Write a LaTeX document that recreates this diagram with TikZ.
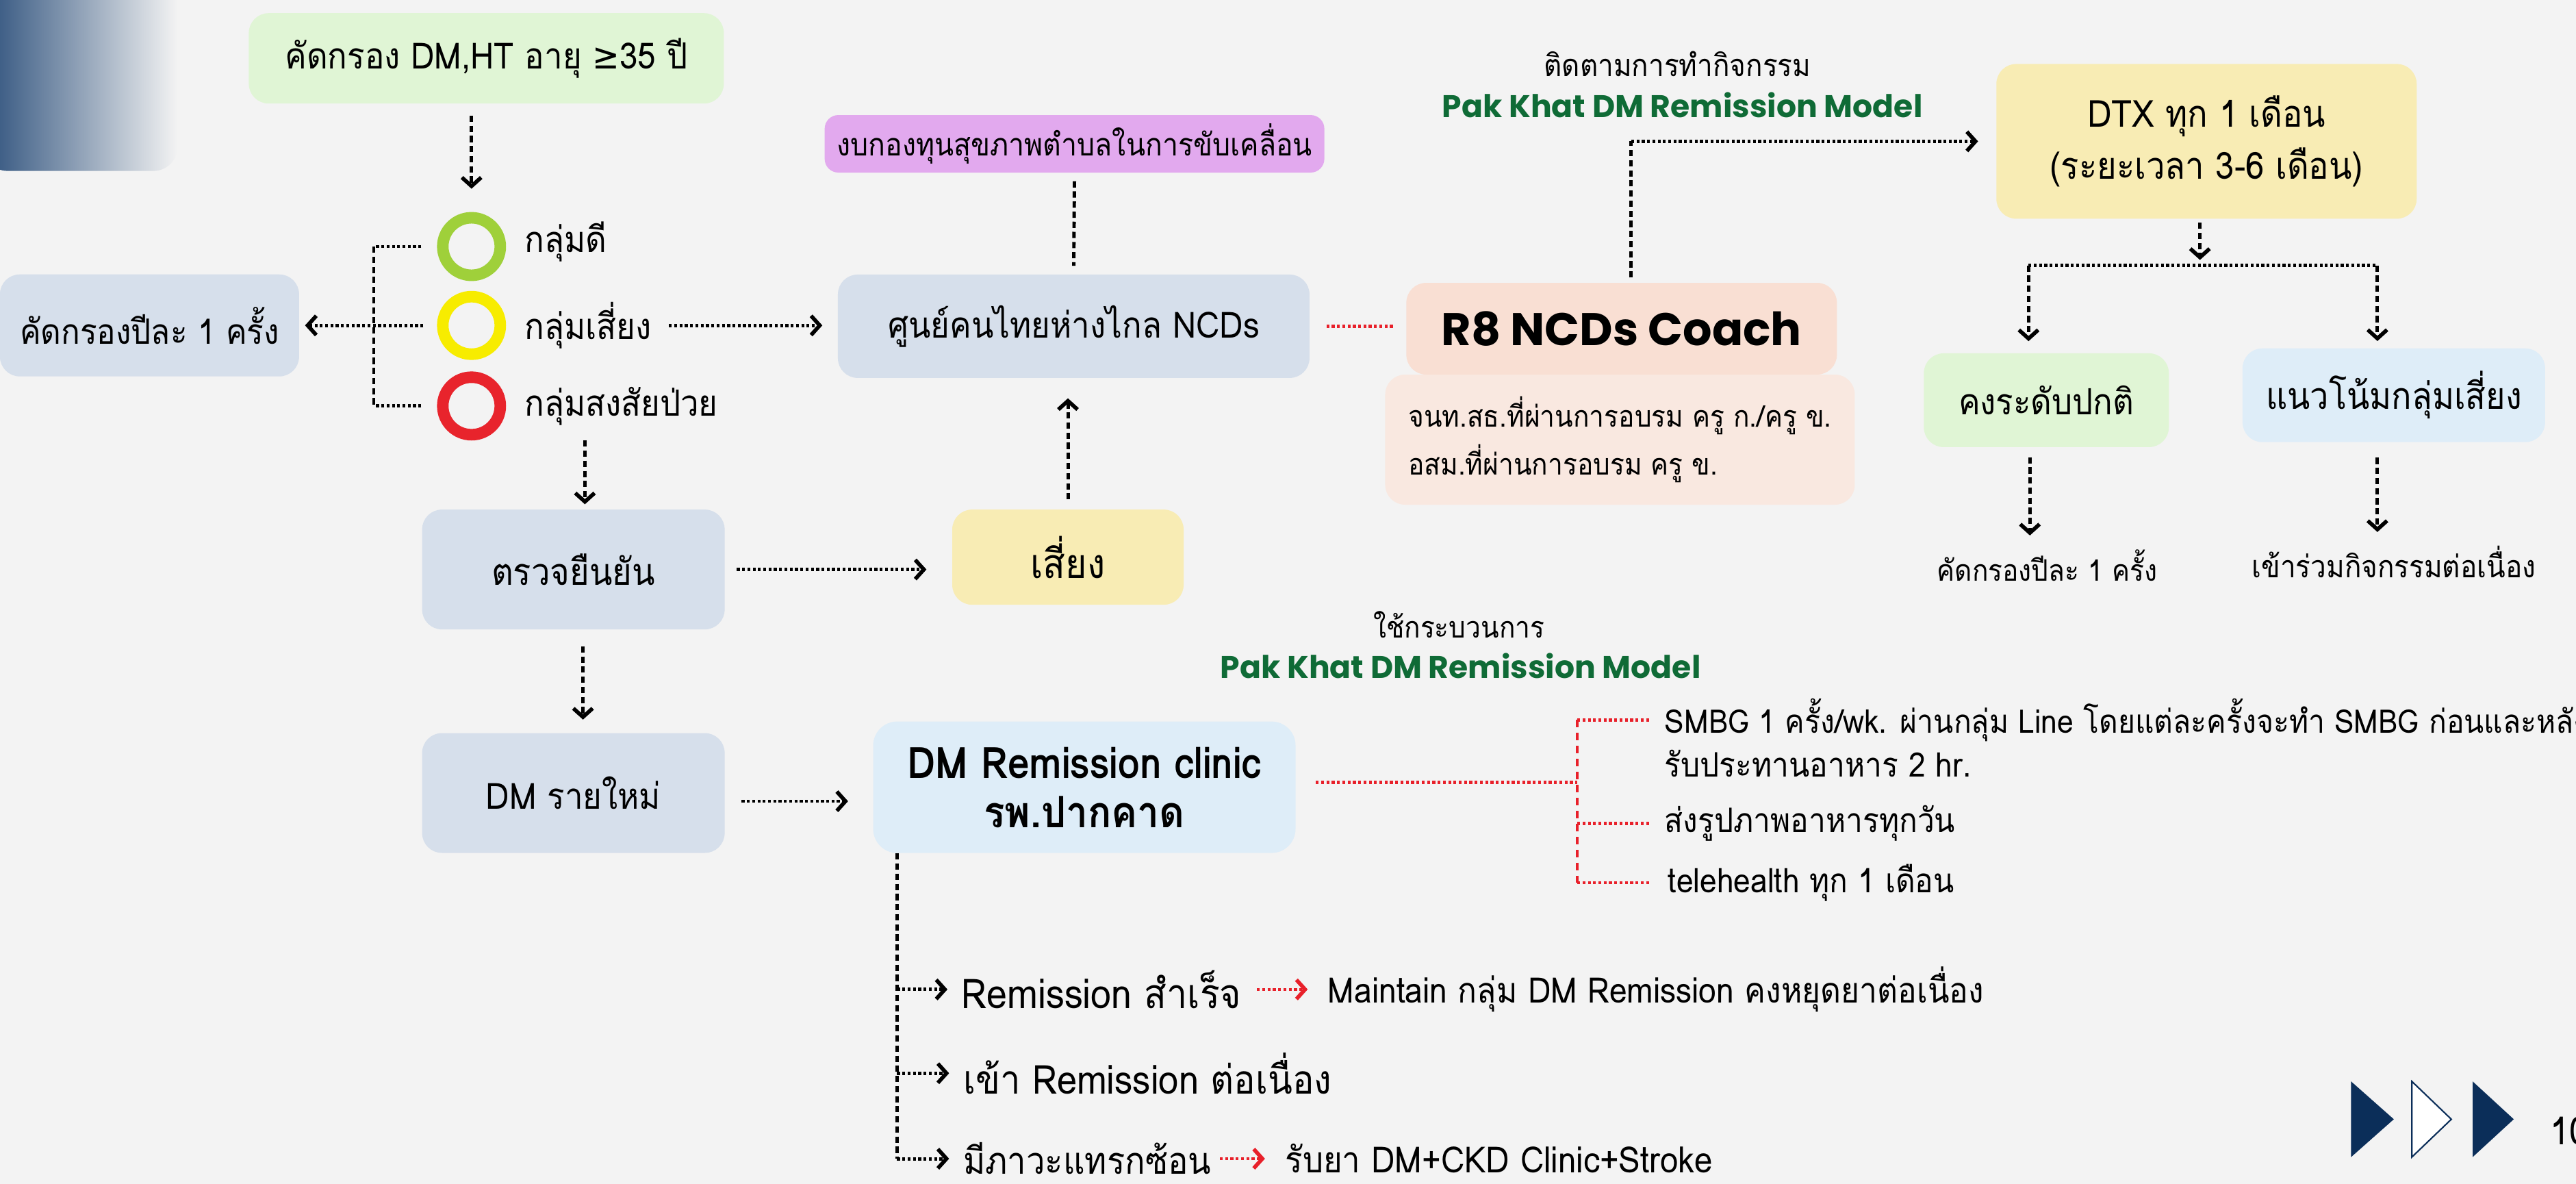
\documentclass[tikz,border=0pt]{standalone}
\usepackage{fontspec}
\setmainfont{Loma}[Script=Thai, FakeStretch=0.9]
\newfontfamily\popfont{Poppins}
\newfontfamily\symfont{DejaVu Sans}[FakeStretch=0.9]
\usetikzlibrary{arrows.meta}

\definecolor{paper}{HTML}{F3F3F3}
\definecolor{navy}{HTML}{0B2E59}
\definecolor{fade}{HTML}{2F527D}
\definecolor{mint}{HTML}{E0F5D5}
\definecolor{slate}{HTML}{D6DFEB}
\definecolor{lilac}{HTML}{E2A9EE}
\definecolor{cream}{HTML}{F8ECB4}
\definecolor{peach}{HTML}{F9DFD3}
\definecolor{blush}{HTML}{F9E8E0}
\definecolor{sky}{HTML}{DEEDF8}
\definecolor{okgreen}{HTML}{9FD03A}
\definecolor{warnyellow}{HTML}{F7EC00}
\definecolor{alertred}{HTML}{E8242C}
\definecolor{linkred}{HTML}{E8202A}
\definecolor{modelgreen}{HTML}{0F6B36}

\begin{document}
\begin{tikzpicture}[x=0.024cm, y=-0.024cm,
    box/.style={rounded corners=0.29cm, inner sep=0pt, align=center, font=\fontsize{15}{20}\selectfont},
    note/.style={inner sep=0pt, font=\fontsize{14}{17}\selectfont},
    ring/.style={circle, draw, line width=4.8pt, minimum size=0.84cm, inner sep=0pt},
    model/.style={inner sep=0pt, text=modelgreen, font=\popfont\bfseries\fontsize{13}{15}\selectfont},
    link/.style={line width=1.4pt, dash pattern=on 1.2pt off 1pt},
    vlink/.style={line width=1.4pt, dash pattern=on 2.6pt off 1.6pt},
    redlink/.style={line width=1.3pt, draw=linkred, dash pattern=on 1.2pt off 1pt},
    redv/.style={line width=1.2pt, draw=linkred, dash pattern=on 3pt off 2.4pt},
    arrowed/.style={-{Straight Barb[length=3.6pt,width=8pt,line width=1.6pt]}}]

    \useasboundingbox (0,0) rectangle (1567.9,720.4);
    \fill[paper] (0,0) rectangle (1567.9,720.4);
    \shade[left color=fade, right color=paper, rounded corners=0.35cm] (-10,-30) rectangle (108,104);

    % screening and groups
    \node[box, fill=mint, minimum width=6.94cm, minimum height=1.32cm] at (296,35.5) (screen) {คัดกรอง DM,HT อายุ {\symfont ≥}35 ปี};
    \node[ring, draw=okgreen] at (287,150) (good) {};
    \node[ring, draw=warnyellow] at (287,198) (risky) {};
    \node[ring, draw=alertred] at (287,247) (sick) {};
    \node[note, anchor=west, font=\fontsize{15}{18}\selectfont] at (319,147) (goodtxt) {กลุ่มดี};
    \node[note, anchor=west, font=\fontsize{15}{18}\selectfont] at (319,198) (riskytxt) {กลุ่มเสี่ยง};
    \node[note, anchor=west, font=\fontsize{15}{18}\selectfont] at (319,247) (sicktxt) {กลุ่มสงสัยป่วย};
    \node[box, fill=slate, minimum width=4.37cm, minimum height=1.49cm, font=\fontsize{14.5}{18}\selectfont] at (91,198) (yearly) {คัดกรองปีละ 1 ครั้ง};

    \node[box, fill=slate, minimum width=6.89cm, minimum height=1.51cm] at (653.5,198.5) (hub) {ศูนย์คนไทยห่างไกล NCDs};
    \node[box, fill=lilac, rounded corners=0.2cm, minimum width=7.3cm, minimum height=0.84cm, font=\fontsize{13}{16}\selectfont] at (654,87.5) (fund) {งบกองทุนสุขภาพตำบลในการขับเคลื่อน};
    \node[box, fill=cream, minimum width=3.38cm, minimum height=1.39cm, font=\fontsize{17}{20}\selectfont] at (650,339) (risk) {เสี่ยง};
    \node[box, fill=slate, minimum width=4.42cm, minimum height=1.75cm, font=\fontsize{15.5}{20}\selectfont] at (349,346.5) (confirm) {ตรวจยืนยัน};
    \node[box, fill=slate, minimum width=4.42cm, minimum height=1.75cm] at (349,482.5) (newdm) {DM รายใหม่};
    \node[box, fill=sky, rounded corners=0.35cm, minimum width=6.17cm, minimum height=1.92cm, font=\bfseries\fontsize{18}{20.5}\selectfont] at (660,479) (clinic) {DM Remission clinic\\รพ.ปากคาด};

    % coach and follow-up
    \node[box, fill=blush, minimum width=6.86cm, minimum height=1.9cm, align=left, font=\fontsize{12.3}{19.8}\selectfont] at (986,267.5) (staff) {จนท.สธ.ที่ผ่านการอบรม ครู ก./ครู ข.\\อสม.ที่ผ่านการอบรม ครู ข.};
    \node[box, fill=peach, minimum width=6.29cm, minimum height=1.34cm, font=\popfont\bfseries\fontsize{19}{22}\selectfont] at (987,200) (coach) {R8 NCDs Coach};
    \node[note, font=\fontsize{12.8}{16}\selectfont] at (1021,39) (followtxt) {ติดตามการทำกิจกรรม};
    \node[model] at (1024,64) (model1) {Pak Khat DM Remission Model};
    \node[box, fill=cream, minimum width=6.14cm, minimum height=2.26cm, font=\fontsize{15.5}{21.5}\selectfont] at (1343,86) (dtx) {DTX ทุก 1 เดือน\\(ระยะเวลา 3-6 เดือน)};
    \node[box, fill=mint, minimum width=3.58cm, minimum height=1.37cm] at (1245.5,243.5) (stable) {คงระดับปกติ};
    \node[box, fill=sky, minimum width=4.42cm, minimum height=1.37cm, font=\fontsize{15.4}{20}\selectfont] at (1457,240.5) (trend) {แนวโน้มกลุ่มเสี่ยง};
    \node[note, font=\fontsize{12.3}{16}\selectfont] at (1246,344) (stableout) {คัดกรองปีละ 1 ครั้ง};
    \node[note, font=\fontsize{12.8}{16}\selectfont] at (1457,342) (trendout) {เข้าร่วมกิจกรรมต่อเนื่อง};

    % clinic process
    \node[note, font=\fontsize{12.3}{16}\selectfont] at (888,380) (usetxt) {ใช้กระบวนการ};
    \node[model] at (889,405) (model2) {Pak Khat DM Remission Model};
    \node[note, anchor=west, font=\fontsize{13.5}{16}\selectfont] at (1013,438) (smbg) {SMBG 1 ครั้ง/wk. ผ่านกลุ่ม Line โดยแต่ละครั้งจะทำ SMBG ก่อนและหลัง};
    \node[note, anchor=west] at (1013,464.5) (smbgb) {รับประทานอาหาร 2 hr.};
    \node[note, anchor=west] at (1013,501) (photo) {ส่งรูปภาพอาหารทุกวัน};
    \node[note, anchor=west] at (1015,537) (tele) {telehealth ทุก 1 เดือน};

    \node[note, anchor=west, font=\fontsize{17}{20}\selectfont] at (585,602) (success) {Remission สำเร็จ};
    \node[note, anchor=west, font=\fontsize{14.6}{17}\selectfont] at (808,602) (maintain) {Maintain กลุ่ม DM Remission คงหยุดยาต่อเนื่อง};
    \node[note, anchor=west, font=\fontsize{16.6}{20}\selectfont] at (586,653) (ongoing) {เข้า Remission ต่อเนื่อง};
    \node[note, anchor=west, font=\fontsize{15.5}{19}\selectfont] at (586,705) (complic) {มีภาวะแทรกซ้อน};
    \node[note, anchor=west, font=\fontsize{15}{18}\selectfont] at (782,705) (referral) {รับยา DM+CKD Clinic+Stroke};

    \coordinate (brace) at (227.5,198);
    \coordinate (drop) at (356,268);
    \coordinate (fork) at (1339,161.5);
    \coordinate (split) at (960,476);
    \coordinate (trunk) at (546,519);

    % connectors
    \draw[vlink, arrowed, shorten <=0.17cm, shorten >=0.34cm] (screen.south -| good) -- (good.north);
    \draw[link, shorten <=0.23cm] (good.west) -- (good.west -| brace);
    \draw[vlink] (good.west -| brace) -- (sick.west -| brace);
    \draw[link, shorten <=0.23cm] (sick.west) -- (sick.west -| brace);
    \draw[link, arrowed, shorten <=0.2cm, shorten >=0.08cm] (risky.west) -- (yearly.east);
    \draw[link, arrowed, shorten <=0.25cm, shorten >=0.22cm] (riskytxt.east) -- (riskytxt.east -| hub.west);
    \draw[vlink, shorten <=0.12cm, shorten >=0.12cm] (fund.south) -- (hub.north);
    \draw[vlink, arrowed, shorten <=0.14cm, shorten >=0.29cm] (risk.north) -- (risk.north |- hub.south);
    \draw[vlink, arrowed, shorten >=0.07cm] (drop) -- (drop |- confirm.north);
    \draw[link, arrowed, shorten <=0.17cm, shorten >=0.37cm] (confirm.east) -- (confirm.east -| risk.west);
    \draw[vlink, arrowed, shorten <=0.24cm, shorten >=0.19cm] ([xshift=0.14cm]confirm.south) -- ([xshift=0.14cm]newdm.north);
    \draw[link, arrowed, shorten <=0.24cm, shorten >=0.36cm] ([yshift=-0.12cm]newdm.east) -- ([yshift=-0.12cm]newdm.east -| clinic.west);
    \draw[redlink, shorten <=0.24cm, shorten >=0.17cm] (hub.east) -- (hub.east -| coach.west);

    \draw[vlink, shorten <=0.07cm] ([xshift=0.14cm]coach.north) -- ([xshift=0.14cm]coach.north |- dtx.west);
    \draw[link, arrowed, shorten >=0.26cm] ([xshift=0.14cm]coach.north |- dtx.west) -- (dtx.west);
    \draw[vlink, arrowed, shorten <=0.05cm, shorten >=0.08cm] (dtx.south -| fork) -- (fork);
    \draw[link] ([xshift=-0.26cm]stable.north |- fork) -- ([xshift=-0.24cm]trend.north |- fork);
    \draw[vlink, arrowed, shorten >=0.17cm] ([xshift=-0.26cm]stable.north |- fork) -- ([xshift=-0.26cm]stable.north);
    \draw[vlink, arrowed, shorten >=0.1cm] ([xshift=-0.24cm]trend.north |- fork) -- ([xshift=-0.24cm]trend.north);
    \draw[vlink, arrowed, shorten <=0.14cm, shorten >=0.2cm] ([xshift=-0.24cm]stable.south) -- ([xshift=-0.24cm]stable.south |- stableout.north);
    \draw[vlink, arrowed, shorten <=0.22cm, shorten >=0.2cm] ([xshift=-0.24cm]trend.south) -- ([xshift=-0.24cm]trend.south |- trendout.north);

    \draw[redlink, shorten <=0.29cm] (clinic.east |- split) -- (split);
    \draw[redv] (split |- smbg.west) -- (split |- tele.west);
    \draw[redlink, shorten >=0.22cm] (split |- smbg.west) -- (smbg.west);
    \draw[redlink, shorten >=0.22cm] (split |- photo.west) -- (photo.west);
    \draw[redlink, shorten >=0.26cm] (split |- tele.west) -- (tele.west);

    \draw[vlink] (clinic.south -| trunk) -- (trunk |- complic.west);
    \draw[link, arrowed, shorten >=0.2cm] (trunk |- success.west) -- (success.west);
    \draw[link, arrowed, shorten >=0.2cm] (trunk |- ongoing.west) -- (ongoing.west);
    \draw[link, arrowed, shorten >=0.2cm] (trunk |- complic.west) -- (complic.west);
    \draw[redlink, arrowed, shorten <=0.22cm, shorten >=0.29cm] (success.east) -- (maintain.west);
    \draw[redlink, arrowed, shorten <=0.12cm, shorten >=0.29cm] (complic.east) -- (referral.west);

    % page marks
    \fill[navy] (1431,658) -- (1457,681) -- (1431,704) -- cycle;
    \filldraw[fill=white, draw=navy, line width=0.6pt] (1468,658) -- (1492,681) -- (1468,704) -- cycle;
    \fill[navy] (1505,658) -- (1530,681) -- (1505,704) -- cycle;
    \node[anchor=west, inner sep=0pt, font=\fontsize{16}{19}\selectfont] at (1552,688) (pageno) {10};
\end{tikzpicture}
\end{document}
